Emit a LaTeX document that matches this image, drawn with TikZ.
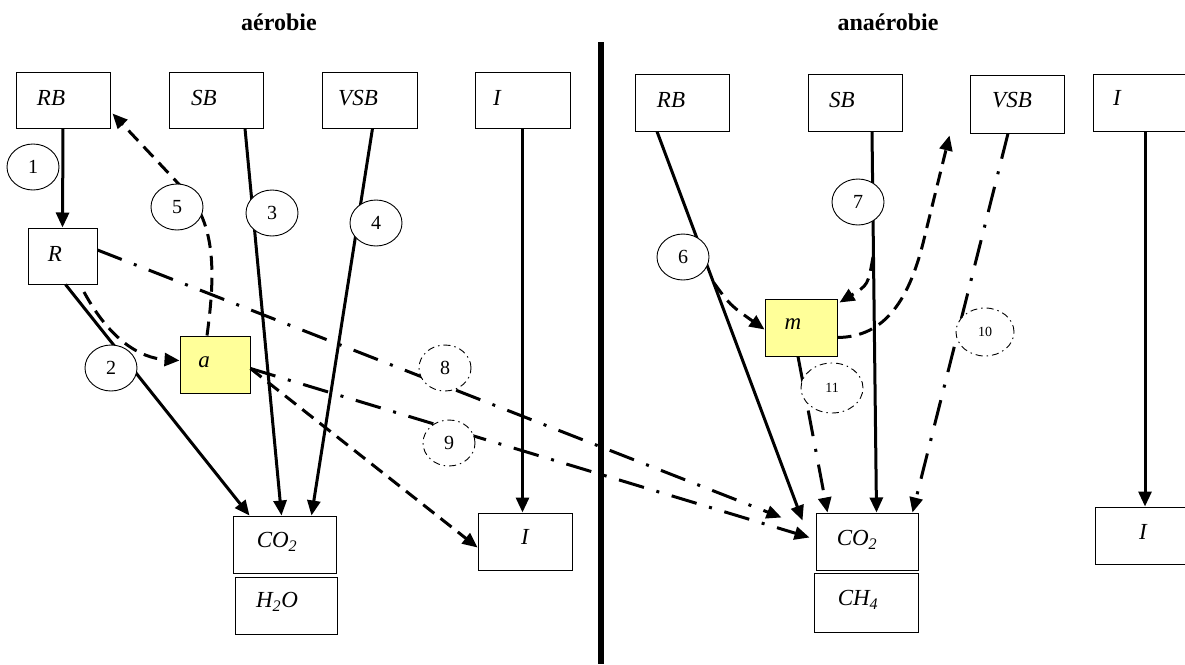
\documentclass[tikz,border=0pt]{standalone}
\usepackage{fontspec}
\setmainfont{Liberation Serif}
\usetikzlibrary{arrows.meta,calc,shapes.geometric}
\definecolor{boxyellow}{RGB}{255,255,153}
\begin{document}
\begin{tikzpicture}[x=1pt,y=-1pt,
  box/.style={draw,line width=1pt,fill=white,inner sep=0pt},
  ybox/.style={box,fill=boxyellow},
  lbl/.style={font=\fontsize{23}{27}\selectfont\itshape,inner sep=0pt},
  ttl/.style={font=\fontsize{24}{28}\selectfont\bfseries,inner sep=0pt},
  num/.style={ellipse,draw,line width=0.9pt,fill=white,minimum width=52pt,minimum height=46pt,inner sep=0pt,font=\fontsize{20}{23}\selectfont},
  numdd/.style={num,dash pattern=on 7pt off 4pt on 1.5pt off 4pt},
  small/.style={font=\fontsize{14}{16}\selectfont},
  tip/.style={-{Triangle[length=15pt,width=13pt]}},
  sol/.style={line width=3pt,tip},
  dsh/.style={line width=3pt,dash pattern=on 14pt off 8pt,tip},
  dd/.style={line width=3pt,dash pattern=on 26pt off 13pt on 3pt off 13pt,tip}
]
\useasboundingbox (0,0) rectangle (1185,664);

% titles
\node[ttl] (tA) at (279,22) {aérobie};
\node[ttl] (tB) at (888,22) {anaérobie};

% ---------- left boxes
\node[box,minimum width=94pt,minimum height=56pt] (rbL) at (63,100) {};
\node[box,minimum width=94pt,minimum height=56pt] (sbL) at (216,100) {};
\node[box,minimum width=95pt,minimum height=56pt] (vsbL) at (369.5,100) {};
\node[box,minimum width=95pt,minimum height=56pt] (iL) at (522.5,100) {};
\node[box,minimum width=69pt,minimum height=56pt] (rL) at (62.5,256) {};
\node[ybox,minimum width=70pt,minimum height=57pt] (aL) at (215,364.5) {};
\node[box,minimum width=103pt,minimum height=57pt] (co2L) at (284.5,544.5) {};
\node[box,minimum width=102pt,minimum height=57pt] (h2oL) at (286,605.5) {};
\node[box,minimum width=94pt,minimum height=57pt] (ibL) at (525,541.5) {};

% ---------- right boxes
\node[box,minimum width=94pt,minimum height=57pt] (rbR) at (682,102.5) {};
\node[box,minimum width=94pt,minimum height=57pt] (sbR) at (855,102.5) {};
\node[box,minimum width=94pt,minimum height=58pt] (vsbR) at (1017,104) {};
\node[box,minimum width=100pt,minimum height=57pt] (iR) at (1143,102.5) {};
\node[ybox,minimum width=72pt,minimum height=57pt] (mR) at (801,327.5) {};
\node[box,minimum width=102pt,minimum height=57pt] (co2R) at (867,541.5) {};
\node[box,minimum width=104pt,minimum height=59pt] (ch4R) at (866,602.5) {};
\node[box,minimum width=100pt,minimum height=57pt] (ibR) at (1145,535.5) {};

% ---------- labels
\node[lbl] (trbL) at (51,98) {RB};
\node[lbl] (tsbL) at (204,98) {SB};
\node[lbl] (tvsbL) at (358,98) {VSB};
\node[lbl] (tiL) at (497,98) {I};
\node[lbl] (trL) at (55,254) {R};
\node[lbl] (taL) at (204,362) {a};
\node[lbl] (tco2L) at (277,542) {CO\textsubscript{2}};
\node[lbl] (th2oL) at (277,602) {H\textsubscript{2}O};
\node[lbl] (tibL) at (525,537) {I};
\node[lbl] (trbR) at (671,100) {RB};
\node[lbl] (tsbR) at (842,100) {SB};
\node[lbl] (tvsbR) at (1012,100) {VSB};
\node[lbl] (tiR) at (1117,98) {I};
\node[lbl] (tmR) at (793,324) {m};
\node[lbl] (tco2R) at (857,540) {CO\textsubscript{2}};
\node[lbl] (tch4R) at (858,600) {CH\textsubscript{4}};
\node[lbl] (tibR) at (1143,532) {I};

% ---------- branch points
\coordinate (b2) at (84,292);
\coordinate (b6) at (714,283);
\coordinate (b7) at (873,257);
\coordinate (bend5) at (190,196);
\coordinate (bendm) at (925,235);

% ---------- left connectors
\draw[sol] (rbL.south) -- (rL.north);
\draw[sol] ([xshift=3pt]rL.south) -- ([xshift=17pt]co2L.north west);
\draw[sol] ([xshift=29pt]sbL.south) -- ([xshift=49pt]co2L.north west);
\draw[sol] ([xshift=3pt]vsbL.south) -- ([xshift=79pt]co2L.north west);
\draw[sol] (iL.south) -- (iL.south |- ibL.north);
\draw[dsh] (b2) .. controls (110,340) and (140,358) .. ([yshift=4pt]aL.west);
\draw[dsh] ([xshift=-8pt]aL.north) .. controls (216,270) and (214,228) .. (bend5) -- ([shift={(2,-15)}]rbL.south east);
\draw[dsh] ([yshift=-4pt]aL.east) -- ([yshift=-6pt]ibL.west);
\draw[dd] ([yshift=6pt]rL.east) -- ([shift={(-34,5)}]co2R.north west);
\draw[dd] ([yshift=-4pt]aL.east) -- ([shift={(-6,-4)}]co2R.west);

% ---------- right connectors
\draw[sol] ([xshift=-25pt]rbR.south) -- ([shift={(-13,8)}]co2R.north west);
\draw[sol] ([xshift=17pt]sbR.south) -- ([xshift=61pt]co2R.north west);
\draw[sol] ([xshift=2pt]iR.south) -- ([xshift=2pt]iR.south |- ibR.north);
\draw[dsh] (b6) .. controls (730,305) .. ([yshift=-2pt]mR.west);
\draw[dsh] (b7) .. controls (868,285) .. ([shift={(2,4)}]mR.north east);
\draw[dsh] ([yshift=-10pt]mR.east) .. controls (885,337) and (910,300) .. (bendm) -- ([shift={(-20,2)}]vsbR.south west);
\draw[dd] ([xshift=-9pt]vsbR.south) -- ([xshift=-6pt]co2R.north east);
\draw[dd] ([xshift=-3pt]mR.south) -- ([xshift=12pt]co2R.north west);

% ---------- divider
\coordinate (dtop) at (601,42);
\coordinate (dbot) at (601,664);
\draw[line width=5.5pt] (dtop) -- (dbot);

% ---------- numbered ellipses
\node[num] (n1) at (33,167) {1};
\node[num] (n2) at (111,368) {2};
\node[num] (n3) at (272,213) {3};
\node[num] (n4) at (376,223) {4};
\node[num] (n5) at (177,207) {5};
\node[num] (n6) at (683,257) {6};
\node[num] (n7) at (858,202) {7};
\node[numdd] (n8) at (445,368) {8};
\node[numdd] (n9) at (449,443) {9};
\node[numdd,small,minimum width=58pt,minimum height=48pt] (n10) at (985,332) {10};
\node[numdd,small,minimum width=62pt,minimum height=50pt] (n11) at (832,388) {11};
\end{tikzpicture}
\end{document}
